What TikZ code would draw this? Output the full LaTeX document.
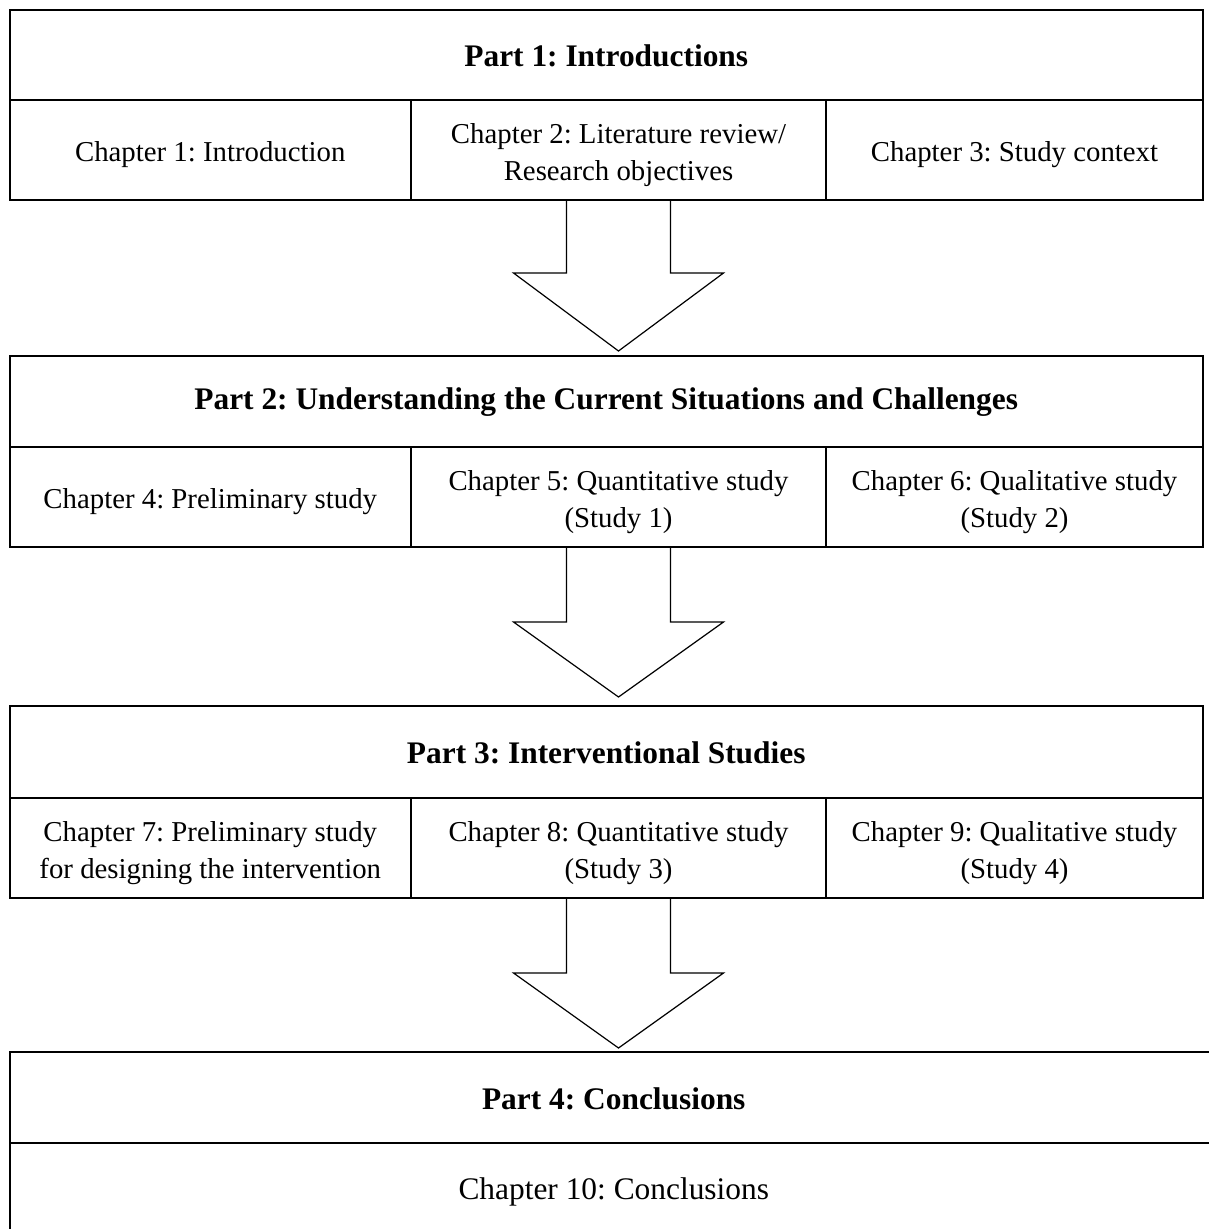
\documentclass[tikz,border=0pt]{standalone}
\usepackage{fontspec}
\setmainfont{Liberation Serif}
\frenchspacing
\usetikzlibrary{calc}
\tikzset{
  box/.style={draw=black, line width=2pt, anchor=north west, inner sep=0pt, outer sep=0pt},
  celltext/.style={align=center, inner sep=0pt, font=\fontsize{28.8}{37}\selectfont, yshift=-5pt},
  headtext/.style={align=center, inner sep=0pt, font=\fontsize{31.4}{38}\selectfont\bfseries, yshift=-1pt},
  bigtext/.style={align=center, inner sep=0pt, font=\fontsize{31.4}{38}\selectfont, yshift=0pt},
  cell/.style={box, label={[celltext]center:#1}},
  headcell/.style={box, label={[headtext]center:#1}},
  bigcell/.style={box, label={[bigtext]center:#1}},
  blockarrow/.style={draw=black, line width=1.2pt, line join=miter}
}
\newcommand\mydownarrow[3]{% #1 anchor, #2 shaft length, #3 total length
  \draw[blockarrow] ($(#1)+(-52,0)$) -- ++(0,#2) -- ++(-53,0) -- ($(#1)+(0,#3)$)
    -- ($(#1)+(105,#2)$) -- ++(-53,0) -- ($(#1)+(52,0)$);
}
\begin{document}
\begin{tikzpicture}[x=1pt,y=-1pt]
\useasboundingbox (0,0) rectangle (1208,1229);
% Part 1
\node[headcell={Part 1: Introductions}, minimum width=1193.5pt, minimum height=90.5pt] (p1h) at (9.5,9.5) {};
\node[cell={Chapter 1: Introduction}, minimum width=401.5pt, minimum height=100pt] (p1c1) at (9.5,100) {};
\node[cell={Chapter 2: Literature review/\\Research objectives}, minimum width=415pt, minimum height=100pt] (p1c2) at (411,100) {};
\node[cell={Chapter 3: Study context}, minimum width=377pt, minimum height=100pt] (p1c3) at (826,100) {};
% Part 2
\node[headcell={Part 2: Understanding the Current Situations and Challenges}, minimum width=1193.5pt, minimum height=91pt] (p2h) at (9.5,356) {};
\node[cell={Chapter 4: Preliminary study}, minimum width=401.5pt, minimum height=100pt] (p2c1) at (9.5,447) {};
\node[cell={Chapter 5: Quantitative study\\(Study 1)}, minimum width=415pt, minimum height=100pt] (p2c2) at (411,447) {};
\node[cell={Chapter 6: Qualitative study\\(Study 2)}, minimum width=377pt, minimum height=100pt] (p2c3) at (826,447) {};
% Part 3
\node[headcell={Part 3: Interventional Studies}, minimum width=1193.5pt, minimum height=92pt] (p3h) at (9.5,706) {};
\node[cell={Chapter 7: Preliminary study\\for designing the intervention}, minimum width=401.5pt, minimum height=100pt] (p3c1) at (9.5,798) {};
\node[cell={Chapter 8: Quantitative study\\(Study 3)}, minimum width=415pt, minimum height=100pt] (p3c2) at (411,798) {};
\node[cell={Chapter 9: Qualitative study\\(Study 4)}, minimum width=377pt, minimum height=100pt] (p3c3) at (826,798) {};
% Part 4
\node[headcell={Part 4: Conclusions}, minimum width=1208.5pt, minimum height=91pt] (p4h) at (9.5,1052) {};
\node[bigcell={Chapter 10: Conclusions}, minimum width=1208.5pt, minimum height=98pt] (p4c) at (9.5,1143) {};
% Arrows
\mydownarrow{p1c2.south}{73}{151}
\mydownarrow{p2c2.south}{75}{150}
\mydownarrow{p3c2.south}{75}{150}
\end{tikzpicture}
\end{document}
